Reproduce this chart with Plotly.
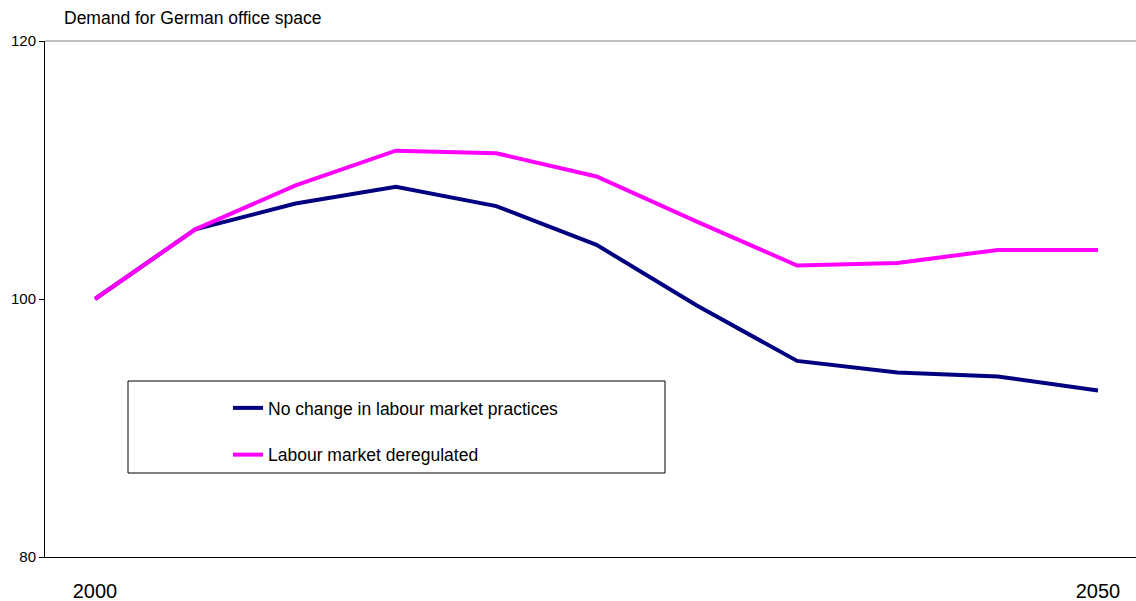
import plotly.graph_objects as go

# values (index, 2000 = 100)
years = [2000, 2005, 2010, 2015, 2020, 2025, 2030, 2035, 2040, 2045, 2050]
no_change = [100, 105.4, 107.4, 108.7, 107.2, 104.2, 99.5, 95.2, 94.3, 94.0, 92.9]
deregulated = [100, 105.4, 108.8, 111.5, 111.3, 109.5, 106.0, 102.6, 102.8, 103.8, 103.8]
x_labels = ["2000", "2050"]
y_ticks = [80, 100, 120]

W, H = 1136, 601
L, R, T, B = 45, 0, 41, 44
pw = W - L - R
ph = H - T - B

def px_x(p):
    return (p - L) / pw

def px_y(p):
    return (H - B - p) / ph

fig = go.Figure()
fig.add_trace(go.Scatter(
    x=years, y=no_change, mode="lines", name="No change in labour market practices",
    line=dict(color="#000080", width=4), legendgroup="a",
))
fig.add_trace(go.Scatter(
    x=years, y=deregulated, mode="lines", name="Labour market deregulated",
    line=dict(color="#FF00FF", width=4), legendgroup="b",
))

# x positions: 2000 at px 95, 2050 at px 1098
step = (1098 - 95) / 10 / 5  # px per year
x0 = 2000 - (95 - L) / step
x1 = 2000 + (W - R - 95) / step

fig.update_xaxes(
    range=[x0, x1], showgrid=False, zeroline=False, automargin=False,
    showline=True, linecolor="black", linewidth=1, mirror=False,
    tickvals=[years[0], years[-1]], ticktext=x_labels, ticks="",
    tickfont=dict(family="Liberation Sans, Arial", size=20, color="black"),
    ticklabelstandoff=16,
)
fig.update_yaxes(
    range=[80, 120], tickvals=y_ticks, showgrid=False, zeroline=False,
    automargin=False,
    showline=True, linecolor="black", linewidth=1,
    ticks="outside", ticklen=5, tickcolor="black",
    tickfont=dict(family="Liberation Sans, Arial", size=15, color="black"),
)

# top border line of plot area and legend box
fig.add_shape(type="line", xref="paper", yref="paper", x0=0, x1=1, y0=1, y1=1,
              line=dict(color="#808080", width=1))
fig.add_shape(type="rect", xref="paper", yref="paper",
              x0=px_x(128), x1=px_x(665), y0=px_y(473), y1=px_y(381),
              line=dict(color="black", width=1), fillcolor="white", layer="below")

fig.add_annotation(text="Demand for German office space", xref="paper", yref="paper",
                   x=px_x(62), y=px_y(18), xanchor="left", yanchor="middle",
                   showarrow=False,
                   font=dict(family="Liberation Sans, Arial", size=17.5, color="black"))

fig.update_layout(
    width=W, height=H,
    margin=dict(l=L, r=R, t=T, b=B),
    plot_bgcolor="white", paper_bgcolor="white",
    showlegend=True,
    legend=dict(
        x=px_x(228), y=px_y(390), xanchor="left", yanchor="top",
        bgcolor="rgba(0,0,0,0)", borderwidth=0,
        font=dict(family="Liberation Sans, Arial", size=17.5, color="black"),
        tracegroupgap=21, itemwidth=30,
    ),
)

fig.write_html("out.html", config={"displayModeBar": False},
               post_script="document.body.style.margin='0';")
